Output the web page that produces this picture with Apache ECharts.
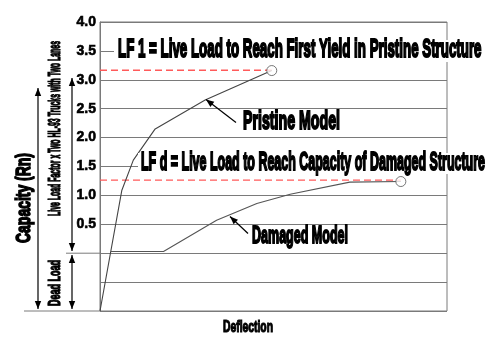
<!DOCTYPE html>
<html><head><meta charset="utf-8">
<script src="https://cdn.jsdelivr.net/npm/echarts@6/dist/echarts.min.js"></script>
<style>html,body{margin:0;padding:0;background:#fff}#c{width:500px;height:343px}</style>
</head><body><div id="c"></div>
<script>
// ---- data ----
const yTickLabels = ['0.5','1.0','1.5','2.0','2.5','3.0','3.5','4.0'];
const pristineX = [0, 6.3, 9.6, 15.9, 30.3, 49.5];
const pristineY = [-1.0, 1.09, 1.61, 2.15, 2.65, 3.16];
const damagedX = [3.1, 18.3, 33.6, 45.2, 54.8, 72.0, 86.7];
const damagedY = [0.03, 0.03, 0.57, 0.86, 1.02, 1.23, 1.24];
const lf1Value = 3.165;
const lfdValue = 1.265;
const lf1LineX = [0, 49.5];
const lfdLineX = [0, 86.7];

const zip = (xs, ys) => xs.map((x, i) => [x, ys[i]]);
const chart = echarts.init(document.getElementById('c'));
const GRID = '#7a7a7a';

chart.setOption({
  animation: false,
  grid: { left: 100, right: 53, top: 22, bottom: 32, show: true, borderColor: GRID, borderWidth: 1 },
  xAxis: { type: 'value', min: 0, max: 100, axisLine: { show: false }, axisTick: { show: false },
           axisLabel: { show: false }, splitLine: { show: false } },
  yAxis: { type: 'value', min: -1, max: 4, interval: 0.5,
           axisLine: { show: true, lineStyle: { color: GRID } }, axisTick: { show: false },
           axisLabel: { margin: 4, color: '#000', fontWeight: 'bold', fontSize: 14,
                        fontFamily: '"Liberation Sans Narrow","Arial Narrow","Liberation Sans",sans-serif',
                        textBorderColor: '#000', textBorderWidth: 0.6,
                        formatter: v => { const s = v.toFixed(1); return yTickLabels.includes(s) ? s : ''; } },
           splitLine: { show: true, lineStyle: { color: GRID, width: 1 } } },
  series: [
    { type: 'line', data: zip(lf1LineX, [lf1Value, lf1Value]), symbol: 'none', z: 3,
      lineStyle: { color: '#ff5a5a', width: 1.3, type: [7, 4] } },
    { type: 'line', data: zip(lfdLineX, [lfdValue, lfdValue]), symbol: 'none', z: 3,
      lineStyle: { color: '#ff5a5a', width: 1.3, type: [7, 4] } },
    { type: 'line', data: zip(pristineX, pristineY), symbol: 'none', z: 4,
      lineStyle: { color: '#444', width: 1.1 } },
    { type: 'line', data: zip(damagedX, damagedY), symbol: 'none', z: 4,
      lineStyle: { color: '#555', width: 1.1 } },
    { type: 'scatter', z: 6, symbol: 'circle', symbolSize: 10,
      data: [[pristineX[pristineX.length-1], pristineY[pristineY.length-1]],
             [damagedX[damagedX.length-1], damagedY[damagedY.length-1]]],
      itemStyle: { color: '#fff', borderColor: '#555', borderWidth: 1 } }
  ]
});

// ---- annotations ----
const FONT = '"Liberation Sans", Arial, sans-serif';
const BASE = 14;
const ctx = document.createElement('canvas').getContext('2d');
function label(str, a, b, cy, capH, rot, sw) {
  ctx.font = 'bold ' + BASE + 'px ' + FONT;
  const mw = ctx.measureText(str).width;
  const w = Math.abs(b - a);
  const c = (a + b) / 2;
  return { type: 'text', x: rot ? cy : c, y: rot ? c : cy,
    rotation: rot || 0, scaleX: w / mw, scaleY: capH / (0.716 * BASE), z: 60,
    style: { text: str, fontSize: BASE, fontWeight: 'bold', fontFamily: FONT, fill: '#000',
             stroke: '#000', lineWidth: sw == null ? 1.1 : sw,
             align: 'center', verticalAlign: 'middle' } };
}
function head(x1, y1, x2, y2, len, hw) {
  const a = Math.atan2(y2 - y1, x2 - x1);
  const bx = x2 - len * Math.cos(a), by = y2 - len * Math.sin(a);
  const nx = -Math.sin(a) * hw, ny = Math.cos(a) * hw;
  return { type: 'polygon', z: 61, shape: { points: [[x2, y2], [bx + nx, by + ny], [bx - nx, by - ny]] },
           style: { fill: '#000' } };
}
function arrow(x1, y1, x2, y2, both, len, hw) {
  len = len || 8; hw = hw || 3.2;
  const els = [{ type: 'line', z: 61, shape: { x1, y1, x2, y2 }, style: { stroke: '#000', lineWidth: 1.2 } },
               head(x1, y1, x2, y2, len, hw)];
  if (both) els.push(head(x2, y2, x1, y1, len, hw));
  return els;
}
function rect(x, y, w, h) {
  return { type: 'rect', z: 55, shape: { x, y, width: w, height: h }, style: { fill: '#fff' } };
}

const y0 = chart.convertToPixel({ yAxisIndex: 0 }, 0);
const yb = chart.convertToPixel({ yAxisIndex: 0 }, -1);
const xl = chart.convertToPixel({ xAxisIndex: 0 }, 0);

const g = [
  { type: 'line', z: 50, shape: { x1: 66, y1: y0, x2: xl, y2: y0 }, style: { stroke: GRID, lineWidth: 1 } },
  { type: 'line', z: 50, shape: { x1: 24, y1: yb, x2: xl, y2: yb }, style: { stroke: GRID, lineWidth: 1 } },
  rect(114, 40, 371, 22),
  rect(138, 153, 351, 21),
  label('LF 1 = Live Load to Reach First Yield in Pristine Structure', 118, 481.5, 49.5, 19),
  label('LF d = Live Load to Reach Capacity of Damaged Structure', 141, 485, 162.5, 18.5),
  label('Pristine Model', 243, 340, 122.5, 18),
  label('Damaged Model', 252, 348, 236.5, 17),
  label('Deflection', 223, 273, 327, 12, 0, 1.0),
  label('Capacity (Rn)', 243, 153, 24, 15, Math.PI / 2),
  label('Live Load Factor x Two HL-93 Trucks with Two Lanes', 216, 41, 55.5, 12, Math.PI / 2, 1.0),
  label('Dead Load', 306, 260, 55.5, 12, Math.PI / 2, 1.0),
  ...arrow(236, 122.5, 206, 99.5, false),
  ...arrow(248, 233.5, 230, 216.5, false),
  ...arrow(38, 309, 38, 88, true),
  ...arrow(72, 251, 72, 78, true),
  ...arrow(72, 309, 72, 255, true)
];
chart.setOption({ graphic: { elements: g } });
</script>
</body></html>
